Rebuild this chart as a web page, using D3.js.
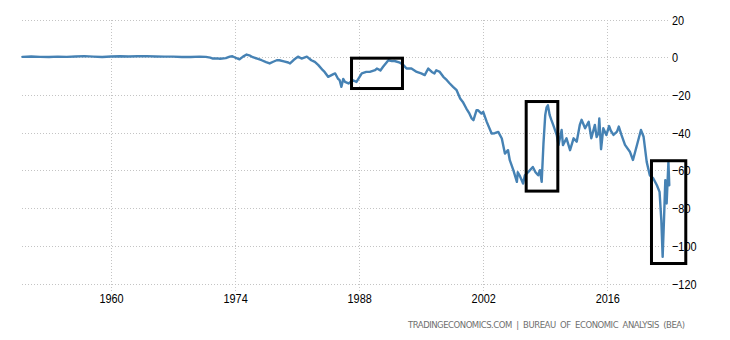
<!DOCTYPE html>
<html>
<head>
<meta charset="utf-8">
<script src="https://cdn.jsdelivr.net/npm/d3@7"></script>
<style>
  html, body { margin: 0; padding: 0; background: #fff; }
  svg { display: block; }
</style>
</head>
<body>
<svg id="chart" width="730" height="340"></svg>
<script>
// ---- data (decimal year, balance of trade in USD billions) ----
const years = [
  1950.0, 1951.0, 1952.0, 1953.0, 1954.0, 1955.0, 1956.0, 1957.0, 1958.0, 1959.0,
  1960.0, 1961.0, 1962.0, 1963.0, 1964.0, 1965.0, 1966.0, 1967.0, 1968.0, 1969.0,
  1970.0, 1970.7, 1971.2, 1971.5, 1972.0, 1972.3, 1972.95, 1973.4, 1973.7, 1974.1,
  1974.5, 1974.9, 1975.3, 1975.7, 1976.0, 1976.5, 1977.0, 1977.5, 1977.9, 1978.3,
  1978.7, 1979.0, 1979.5, 1980.0, 1980.2, 1980.6, 1981.1, 1981.5, 1982.1, 1982.6,
  1983.0, 1983.4, 1983.9, 1984.1, 1984.5, 1985.1, 1985.3, 1985.6, 1985.8, 1986.0,
  1986.2, 1986.4, 1986.8, 1987.3, 1987.7, 1988.3, 1988.8, 1989.2, 1989.8, 1990.0,
  1990.4, 1990.7, 1991.3, 1991.7, 1992.0, 1992.6, 1993.0, 1993.35, 1993.9, 1994.5,
  1995.0, 1995.4, 1995.8, 1996.2, 1996.5, 1996.7, 1997.1, 1997.5, 1997.9, 1998.2,
  1998.6, 1999.0, 1999.4, 1999.7, 2000.1, 2000.4, 2000.7, 2000.9, 2001.25, 2001.4,
  2001.8, 2002.0, 2002.4, 2002.95, 2003.3, 2003.7, 2004.1, 2004.45, 2004.8, 2005.0,
  2005.4, 2005.8, 2005.9, 2006.1, 2006.5, 2006.7, 2007.1, 2007.6, 2007.9, 2008.2,
  2008.4, 2008.6, 2008.8, 2009.0, 2009.15, 2009.3, 2009.5, 2009.7, 2009.9, 2010.3,
  2010.5, 2010.85, 2011.0, 2011.4, 2011.8, 2012.2, 2012.55, 2012.9, 2013.1, 2013.5,
  2013.9, 2014.2, 2014.6, 2014.8, 2015.0, 2015.1, 2015.3, 2015.55, 2015.9, 2016.2,
  2016.4, 2016.7, 2017.1, 2017.3, 2017.6, 2018.0, 2018.55, 2018.9, 2019.3, 2019.8,
  2020.1, 2020.45, 2020.8, 2021.2, 2021.6, 2021.9, 2022.1, 2022.25, 2022.4, 2022.55,
  2022.7, 2022.9, 2023.0
];
const balance = [
  0.2, 0.4, 0.2, 0.1, 0.3, 0.2, 0.4, 0.6, 0.3, 0.1,
  0.4, 0.5, 0.4, 0.5, 0.6, 0.4, 0.3, 0.3, 0.1, 0.1,
  0.3, 0.2, -0.2, -0.7, -0.6, -0.8, -0.5, 0.3, 0.5, -0.4,
  -1.1, 0.3, 1.4, 0.8, 0.0, -0.8, -1.6, -2.6, -3.3, -2.4,
  -1.6, -1.6, -2.2, -2.8, -3.3, -1.5, 0.3, -0.7, 0.3, -1.6,
  -2.5, -4.2, -6.9, -7.8, -10.4, -9.0, -8.6, -11.3, -12.2, -15.7,
  -11.5, -13.1, -13.9, -12.2, -13.1, -8.6, -7.8, -7.8, -6.9, -6.0,
  -7.0, -5.1, -1.6, -2.1, -2.0, -2.9, -4.2, -6.0, -6.0, -7.8,
  -8.6, -9.5, -6.0, -7.8, -8.6, -6.9, -7.8, -10.4, -12.2, -13.8,
  -15.7, -17.5, -21.9, -23.7, -27.2, -29.5, -32.5, -33.4, -28.1, -28.1,
  -29.9, -29.0, -34.3, -40.5, -40.3, -39.6, -43.1, -51.1, -49.3, -54.6,
  -59.9, -66.1, -61.0, -62.6, -67.0, -62.6, -60.8, -58.2, -61.0, -62.6,
  -59.9, -66.1, -45.8, -30.7, -26.6, -25.5, -30.7, -33.4, -35.9, -41.3,
  -46.6, -38.6, -46.6, -43.0, -49.3, -43.0, -44.8, -35.9, -33.2, -37.7,
  -34.2, -43.0, -35.9, -42.3, -40.3, -32.5, -48.8, -37.7, -41.3, -36.5,
  -39.0, -41.2, -39.5, -36.8, -41.2, -46.5, -50.1, -54.5, -47.5, -38.6,
  -42.2, -55.5, -62.6, -64.3, -67.9, -71.4, -86.4, -105.9, -86.4, -65.2,
  -77.6, -55.5, -67.9
];

// tick labels
const xTicks = [1960, 1974, 1988, 2002, 2016];
const yTicks = [20, 0, -20, -40, -60, -80, -100, -120];

// highlighted boxes: [startYear, endYear, topValue, bottomValue]
const boxStart = [1987.14, 2006.85, 2020.99];
const boxEnd   = [1992.89, 2010.42, 2024.86];
const boxTop   = [-0.5, -23.5, -54.9];
const boxBottom= [-16.6, -71.0, -109.4];

const footer = "TRADINGECONOMICS.COM  |  BUREAU  OF  ECONOMIC  ANALYSIS  (BEA)";

// ---- drawing ----
const svg = d3.select("#chart");
const x = d3.scaleLinear().domain([1950, 2023]).range([22.4, 669.3]);
const y = d3.scaleLinear().domain([-120, 20]).range([283.5, 19.5]);

const gridColor = "#c4c4c4";
const font = "'Liberation Sans', Arial, sans-serif";
const narrow = "scale(0.84,1)";

// horizontal grid
const gy = svg.append("g")
  .attr("transform", "translate(22,0)")
  .call(d3.axisRight(y).tickValues(yTicks).tickSize(670 - 22).tickFormat(""));
gy.select(".domain").remove();
gy.selectAll(".tick line")
  .attr("stroke", gridColor).attr("stroke-dasharray", "1,2").attr("shape-rendering", "crispEdges");

// vertical grid
const gx = svg.append("g")
  .attr("transform", "translate(0,19.5)")
  .call(d3.axisBottom(x).tickValues(xTicks).tickSize(291 - 19.5).tickFormat(""));
gx.select(".domain").remove();
gx.selectAll(".tick line")
  .attr("stroke", gridColor).attr("stroke-dasharray", "1,2").attr("shape-rendering", "crispEdges");

// y labels
const yl = svg.append("g")
  .attr("transform", "translate(672,0)")
  .call(d3.axisRight(y).tickValues(yTicks).tickSize(0).tickPadding(0).tickFormat(d3.format("d")));
yl.select(".domain").remove();
yl.selectAll("text")
  .attr("font-family", font).attr("font-size", "13px").attr("fill", "#000")
  .attr("text-anchor", "start").attr("dy", "0.35em").attr("x", 0)
  .attr("transform", narrow);

// x labels
const xl = svg.append("g")
  .attr("transform", "translate(0,291)")
  .call(d3.axisBottom(x).tickValues(xTicks).tickSize(0).tickPadding(0).tickFormat(d3.format("d")));
xl.select(".domain").remove();
xl.selectAll("text")
  .attr("font-family", font).attr("font-size", "13px").attr("fill", "#000")
  .attr("dy", "0").attr("y", 11.5)
  .attr("transform", narrow);

// series line
const pts = years.map((yr, i) => [yr, balance[i]]);
const line = d3.line().x(d => x(d[0])).y(d => y(d[1])).curve(d3.curveLinear);
svg.append("path")
  .datum(pts)
  .attr("d", line)
  .attr("fill", "none")
  .attr("stroke", "#4682b4")
  .attr("stroke-width", 2.4)
  .attr("stroke-linejoin", "round")
  .attr("stroke-linecap", "round");

// annotation boxes
svg.append("g").selectAll("rect")
  .data(boxStart.map((s, i) => ({s, e: boxEnd[i], t: boxTop[i], b: boxBottom[i]})))
  .join("rect")
  .attr("x", d => x(d.s))
  .attr("y", d => y(d.t))
  .attr("width", d => x(d.e) - x(d.s))
  .attr("height", d => y(d.b) - y(d.t))
  .attr("fill", "none")
  .attr("stroke", "#000")
  .attr("stroke-width", 3);

// footer
svg.append("text")
  .attr("x", 408).attr("y", 327.5)
  .attr("font-family", "'DejaVu Sans', Verdana, sans-serif")
  .attr("font-size", "8.5px")
  .attr("fill", "#707070")
  .style("white-space", "pre")
  .attr("textLength", 277)
  .attr("lengthAdjust", "spacing")
  .text(footer);
</script>
</body>
</html>
